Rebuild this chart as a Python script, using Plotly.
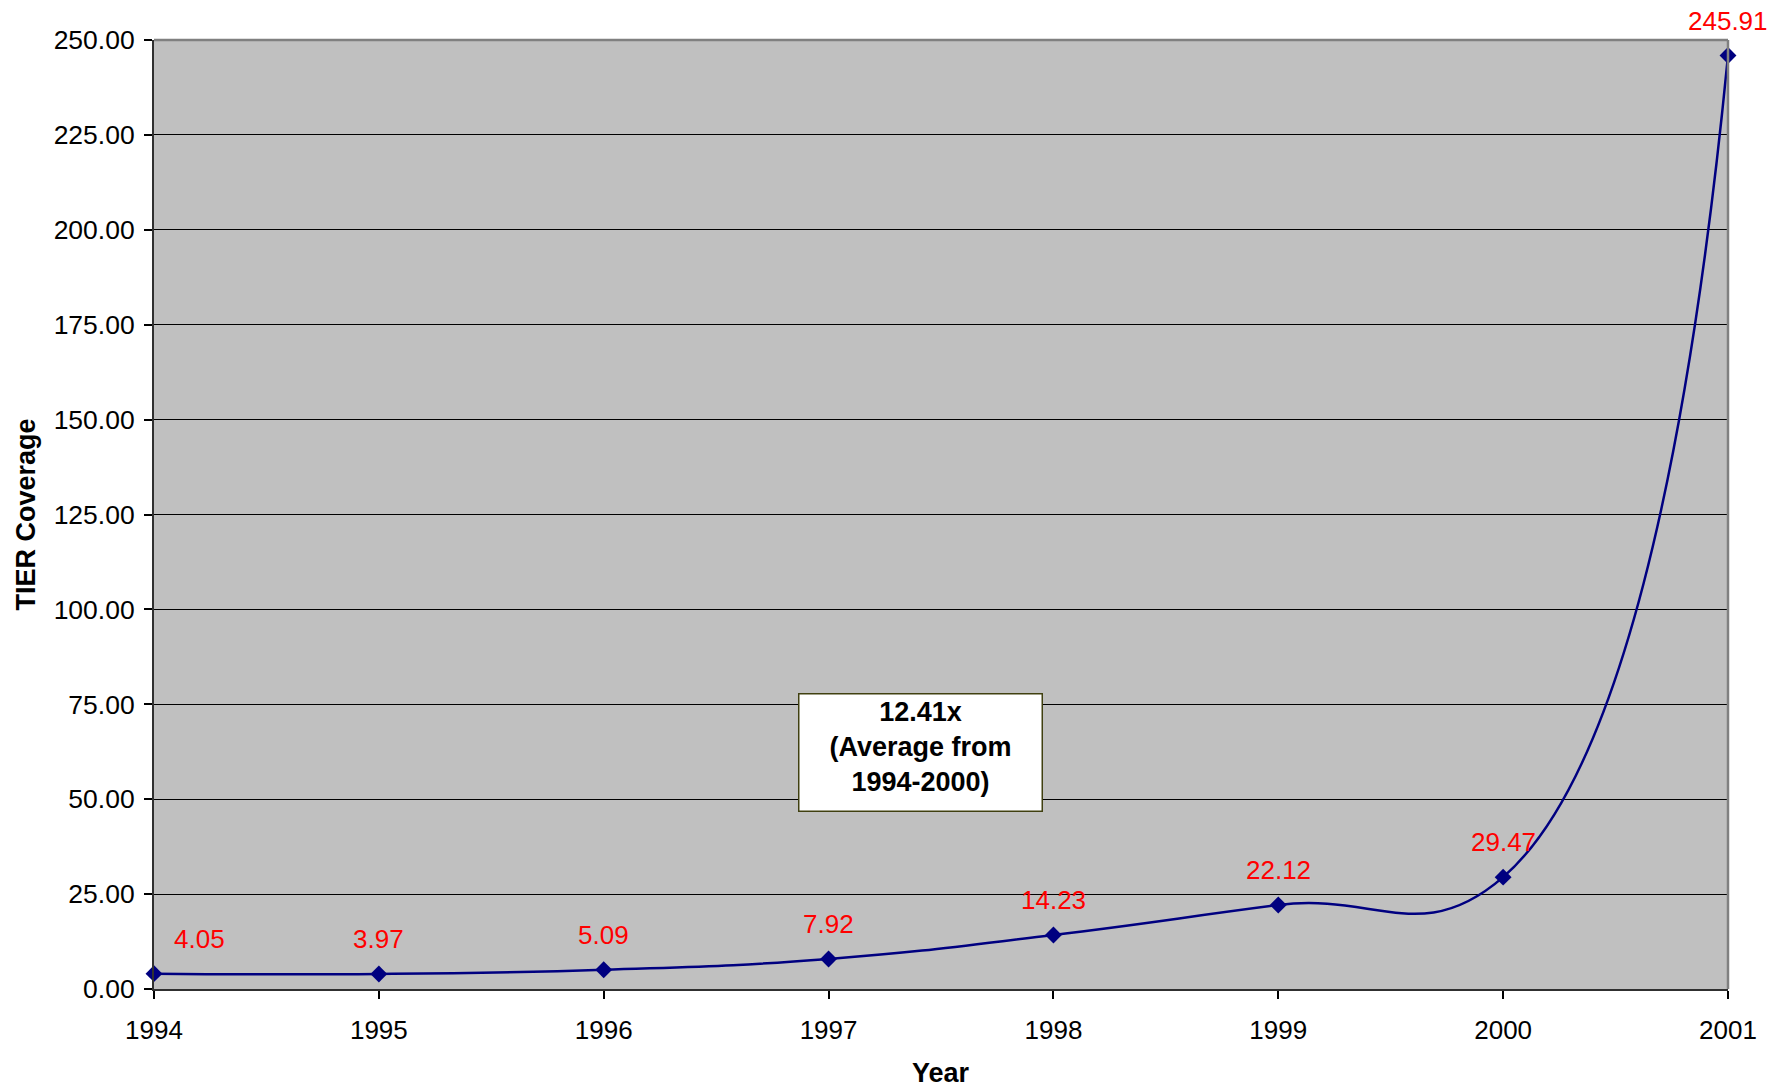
import plotly.graph_objects as go

# TIER coverage by year
years = [1994, 1995, 1996, 1997, 1998, 1999, 2000, 2001]
coverage = [4.05, 3.97, 5.09, 7.92, 14.23, 22.12, 29.47, 245.91]
y_ticks = [0, 25, 50, 75, 100, 125, 150, 175, 200, 225, 250]
note_text = "<b>12.41x<br>(Average from<br>1994-2000)</b>"

FONT = "Liberation Sans, Arial, sans-serif"
FS = 26
FS_BOLD = 27

# plot area in pixels
L, R, T, B = 154, 60, 40, 102
W, H = 1788, 1091
PW, PH = W - L - R, H - T - B

fig = go.Figure()
fig.add_trace(go.Scatter(
    x=years, y=coverage,
    mode="lines+markers",
    line=dict(color="#000080", width=2.5, shape="spline", smoothing=1.3),
    marker=dict(symbol="diamond", size=13, color="#000080"),
    showlegend=False,
    cliponaxis=False,
))

annotations = []
for i, (yr, val) in enumerate(zip(years, coverage)):
    annotations.append(dict(
        x=yr, y=val, xref="x", yref="y",
        text=f"{val:.2f}", showarrow=False,
        font=dict(family=FONT, size=FS, color="#FF0000"),
        xanchor="center", yanchor="middle",
        yshift=35, xshift=45 if i == 0 else 0,
    ))

# callout box with the 1994-2000 average
annotations.append(dict(
    x=1997.41, y=62.4, xref="x", yref="y",
    text=note_text, showarrow=False,
    font=dict(family=FONT, size=FS_BOLD, color="#000000"),
    align="center", valign="top", bgcolor="#FFFFFF",
    bordercolor="#404010", borderwidth=1.5, borderpad=2,
    width=238, height=112,
))

# axis titles
annotations.append(dict(
    x=0.5, y=-(1073 - (H - B)) / PH, xref="paper", yref="paper",
    xanchor="center", yanchor="middle",
    text="<b>Year</b>", showarrow=False,
    font=dict(family=FONT, size=FS_BOLD, color="#000000"),
))
annotations.append(dict(
    x=-(L - 25) / PW, y=0.5, xref="paper", yref="paper",
    xanchor="center", yanchor="middle",
    text="<b>TIER Coverage</b>", textangle=-90,
    showarrow=False, font=dict(family=FONT, size=FS_BOLD, color="#000000"),
))

fig.update_layout(
    width=W, height=H,
    margin=dict(l=L, r=R, t=T, b=B),
    paper_bgcolor="#FFFFFF",
    plot_bgcolor="#C0C0C0",
    font=dict(family=FONT, size=FS, color="#000000"),
    annotations=annotations,
    shapes=[
        dict(type="line", xref="paper", yref="paper", x0=0, x1=1, y0=1, y1=1,
             line=dict(color="#808080", width=2.5), layer="above"),
        dict(type="line", xref="paper", yref="paper", x0=1, x1=1, y0=0, y1=1,
             line=dict(color="#808080", width=2.5), layer="above"),
    ],
)

fig.update_xaxes(
    range=[1994, 2001], tickmode="array", tickvals=years,
    ticktext=[str(y) for y in years],
    showgrid=False, zeroline=False,
    showline=True, linecolor="#303030", linewidth=2,
    ticks="outside", ticklen=8, tickcolor="#000000", tickwidth=1.5,
    ticklabelstandoff=9,
    tickfont=dict(family=FONT, size=FS, color="#000000"),
)
fig.update_yaxes(
    range=[0, 250], tickmode="array", tickvals=y_ticks,
    ticktext=[f"{v:.2f}" for v in y_ticks],
    showgrid=True, gridcolor="#000000", gridwidth=1,
    zeroline=False,
    showline=True, linecolor="#303030", linewidth=2,
    ticks="outside", ticklen=8, tickcolor="#000000", tickwidth=1.5,
    ticklabelstandoff=4,
    tickfont=dict(family=FONT, size=26.5, color="#000000"),
)

fig.write_html("out.html")
